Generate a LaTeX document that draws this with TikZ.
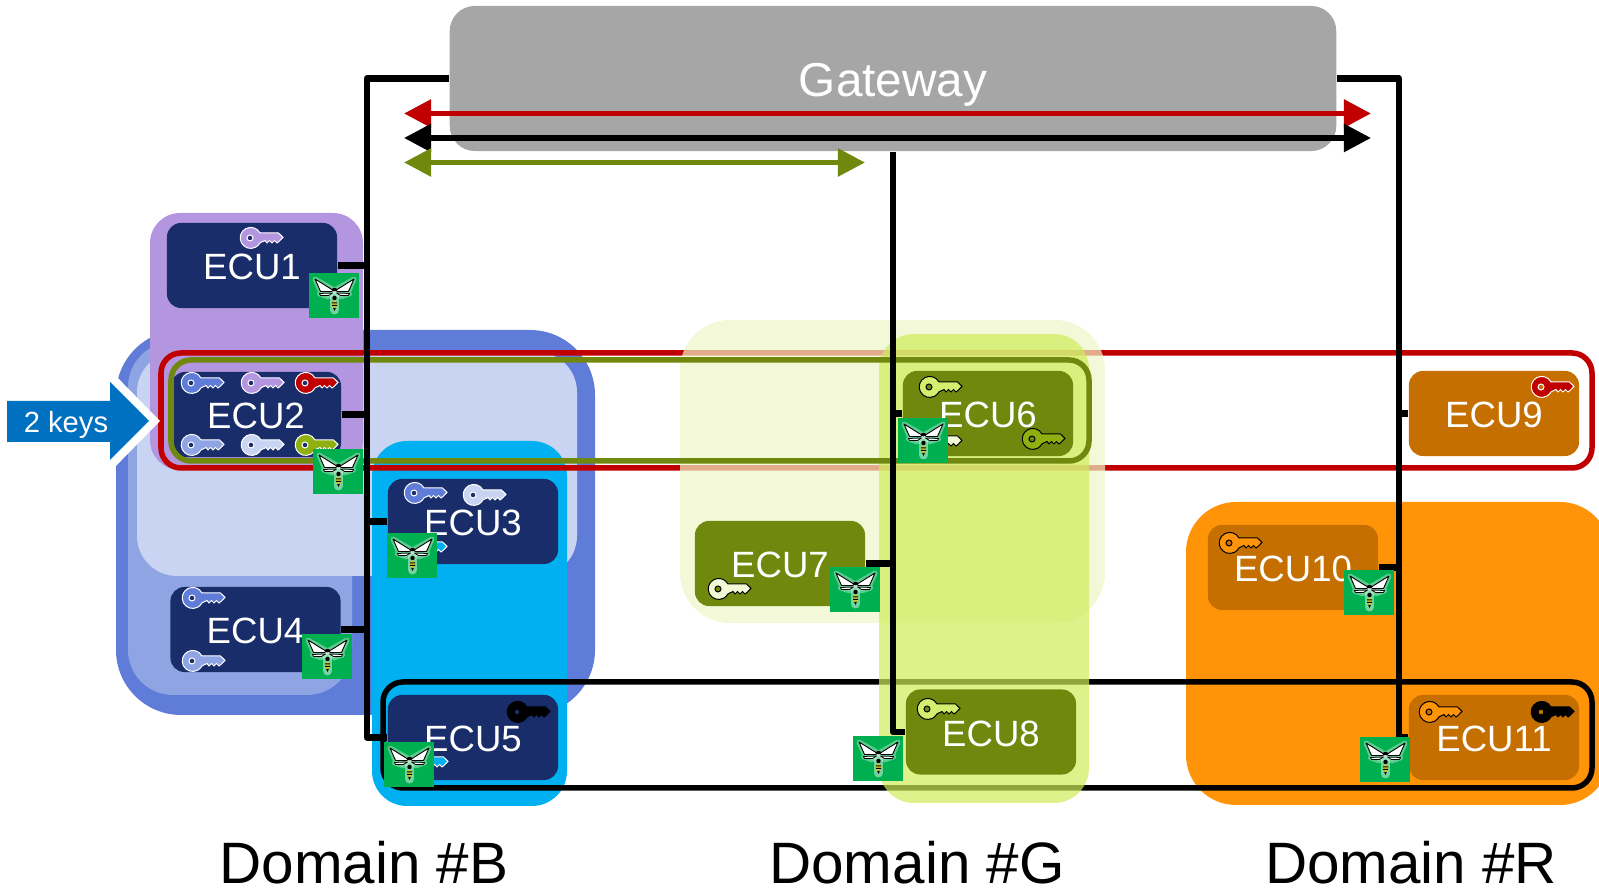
\documentclass[tikz,border=0pt]{standalone}
\usepackage{fontspec}
\setmainfont{Liberation Sans}
\usetikzlibrary{arrows.meta, positioning, calc}

\definecolor{bluedark}{HTML}{5F7CD8}
\definecolor{bluemid}{HTML}{8FA5E3}
\definecolor{bluelight}{HTML}{C8D4F1}
\definecolor{purpledom}{HTML}{B495E0}
\definecolor{cyandom}{HTML}{00B0F0}
\definecolor{orangedom}{HTML}{FF9409}
\definecolor{navyecu}{HTML}{1A2D6B}
\definecolor{oliveecu}{HTML}{71880E}
\definecolor{brownecu}{HTML}{C46F00}
\definecolor{redkey}{HTML}{C00000}
\definecolor{olivekey}{HTML}{8FB010}
\definecolor{limekey}{HTML}{D4EE70}
\definecolor{palekey}{HTML}{F3F9D7}
\definecolor{waspgreen}{HTML}{00B050}
\definecolor{arrowblue}{HTML}{0070C0}

\tikzset{
  ecubox/.style={rounded corners=.14cm, minimum width=1.7cm, minimum height=.85cm, inner sep=0pt,
    text=white, text height=.29cm, font=\fontsize{10.4}{12}\selectfont},
  ecunavy/.style={ecubox, fill=navyecu},
  ecuolive/.style={ecubox, fill=oliveecu},
  ecubrown/.style={ecubox, fill=brownecu},
  domlabel/.style={font=\fontsize{16.6}{20}\selectfont, inner sep=0pt},
  busline/.style={line width=.065cm, line join=round},
  keyframe/.style={line width=.055cm, rounded corners=.2cm},
  keyarrow/.style={line width=.055cm, {Triangle[length=.27cm,width=.27cm]}-{Triangle[length=.27cm,width=.27cm]}},
  pics/key/.style 2 args={code={
    \path[fill=#1, draw=#2, line width=.01cm, even odd rule]
      (20,-5) arc[start angle=28, end angle=332, radius=.105cm]
      -- (25,2.5) -- (27,5) -- (29.5,2.5) -- (32,5) -- (34.5,2.5) -- (37,5) -- (39,3.5)
      -- (43,-.6) -- (38.5,-5) -- cycle
      (10,0) circle[radius=.03cm];
  }},
  pics/wasp/.style={code={
    \fill[waspgreen] (0,0) rectangle (50,45);
    % glow behind the insect
    \foreach \s in {1,-1}
      \draw[white, opacity=.35, fill=white, line width=.05cm, line join=round]
        ({25.5+\s*19.5},6) -- ({25.5+\s*14},19) -- ({25.5+\s*15},21) -- ({25.5+\s*6},24) -- (25.5,17) -- cycle;
    \draw[white, opacity=.45, line width=.09cm, line cap=round] (25.5,22) -- (25.5,37);
    % wings
    \foreach \s in {1,-1} {
      \draw[black, fill=white, line width=.009cm, line join=round]
        ({25.5+\s*19.5},6) -- ({25.5+\s*14},18.5) -- ({25.5+\s*3},18.5) -- ({25.5+\s*1},17.5) -- cycle;
      \draw[black, fill=white, line width=.008cm, line join=round]
        ({25.5+\s*2},20) -- ({25.5+\s*15},20.5) -- ({25.5+\s*14},22.5) -- ({25.5+\s*6},22.5) -- cycle;
    }
    % body
    \fill[black] (25.5,16.5) ellipse[x radius=.025cm, y radius=.018cm];
    \fill[black] (25.5,25) circle[radius=.022cm];
    \fill[yellow!80!black] (25.5,31.5) ellipse[x radius=.025cm, y radius=.04cm];
    \fill[black] (23,29.5) rectangle (28,30.5) (23,32) rectangle (28,33);
    \fill[black] (24.2,35) -- (26.8,35) -- (25.5,38) -- cycle;
  }}
}

\begin{document}
\begin{tikzpicture}[x=.01cm, y=-.01cm]
  \useasboundingbox (0,0) rectangle (1599,889);
  \clip (0,0) rectangle (1599,889);

  % Domain B and its sub groups
  \fill[bluedark, rounded corners=.65cm] (116,330) rectangle (595,715);
  \fill[bluemid, rounded corners=.45cm] (128,342) rectangle (352,695);
  \fill[bluelight, rounded corners=.4cm] (137,352) rectangle (577,576);
  \fill[purpledom, rounded corners=.3cm] (150,213) rectangle (363,470);
  \fill[cyandom, rounded corners=.35cm] (372,441) rectangle (567,806);

  % Domain R
  \fill[orangedom, rounded corners=.5cm] (1186,502) rectangle (1610,805);

  % Red and black key frames, seen through the green groups
  \draw[keyframe, redkey] (161,353) rectangle (1592,468);
  \draw[keyframe, black] (383,682) rectangle (1592,788);

  % Domain G
  \fill[fill={rgb,255:red,238;green,246;blue,199}, opacity=.7, rounded corners=.5cm] (680,320) rectangle (1105,623);
  \fill[fill={rgb,255:red,206;green,236;blue,88}, opacity=.7, rounded corners=.35cm] (879,334) rectangle (1089,803);

  % Gateway
  \node[fill=black!35, rounded corners=.25cm, minimum width=8.86cm, minimum height=1.45cm, inner sep=0pt,
    text=white, text height=.46cm, font=\fontsize{13.55}{16}\selectfont] (gateway) at (893,78.5) {Gateway};

  % ECUs
  \node[ecunavy] (ecu1) at (252,265.5) {ECU1};
  \node[ecunavy] (ecu2) at (256,414.5) {ECU2};
  \node[ecunavy] (ecu3) at (473,521.5) {ECU3};
  \node[ecunavy] (ecu4) at (255.5,629.5) {ECU4};
  \node[ecunavy] (ecu5) at (473,737.5) {ECU5};
  \node[ecuolive] (ecu6) at (988,413.5) {ECU6};
  \node[ecuolive] (ecu7) at (780,563.5) {ECU7};
  \node[ecuolive] (ecu8) at (991,732) {ECU8};
  \node[ecubrown] (ecu9) at (1494,413.5) {ECU9};
  \node[ecubrown] (ecu10) at (1293,567.5) {ECU10};
  \node[ecubrown] (ecu11) at (1494,737.5) {ECU11};

  % Keys
  \foreach \kx/\ky/\kf/\kd in {
    240/238/purpledom/white, 181/383/bluedark/white, 241/383/purpledom/white, 295/383/redkey/white,
    181/445/bluemid/white, 241/445/bluelight/white, 295/445/olivekey/white,
    404/493/bluedark/white, 463/495/bluelight/white, 404/547/cyandom/white,
    182/598/bluedark/white, 182/661/bluemid/white,
    507/712/black/black, 405/762/cyandom/white,
    919/387/limekey/black, 919/441/palekey/black, 1022/439/olivekey/black,
    708/589/palekey/black, 917/709/limekey/black,
    1531/387/redkey/white, 1219/543/orangedom/black,
    1419/712/orangedom/black, 1531/712/black/black}
    \pic at (\kx,\ky) {key={\kf}{\kd}};

  % Olive key frame
  \draw[keyframe, oliveecu] (171,360) rectangle (1089,461);

  % Buses to the gateway
  \coordinate (busL) at (367,78.5);
  \coordinate (busR) at (1399,78.5);
  \draw[busline] (gateway.west) -- (busL) |- (ecu5.west);
  \draw[busline] (gateway.east) -- (busR) |- (ecu11.west);
  \draw[busline] (gateway.south) |- (ecu8.west);
  \foreach \ecu in {ecu1,ecu2,ecu4}
    \draw[busline] (\ecu.east) -- (\ecu.east -| busL);
  \draw[busline] (ecu3.west) -- (ecu3.west -| busL);
  \draw[busline] (ecu6.west) -- (ecu6.west -| gateway.south);
  \draw[busline] (ecu7.east) -- (ecu7.east -| gateway.south);
  \draw[busline] (ecu9.west) -- (ecu9.west -| busR);
  \draw[busline] (ecu10.east) -- (ecu10.east -| busR);

  % Wasps
  \foreach \wx/\wy in {309/273, 313/449, 387/533, 302/634, 384/742, 898/418, 830/567, 853/736, 1344/570, 1360/737}
    \pic at (\wx,\wy) {wasp};

  % Arrows across the gateway
  \coordinate (redL) at (404,113.5);
  \coordinate (redR) at (1371,113.5);
  \coordinate (blackL) at (404,138);
  \coordinate (blackR) at (1371,138);
  \coordinate (greenL) at (404,162.5);
  \coordinate (greenR) at (865,162.5);
  \draw[keyarrow, redkey] (redL) -- (redR);
  \draw[keyarrow, black] (blackL) -- (blackR);
  \draw[keyarrow, oliveecu] (greenL) -- (greenR);

  % 2 keys marker
  \fill[white] (110,370) -- (160,421) -- (110,472) -- cycle;
  \fill[arrowblue] (7,401) -- (110,401) -- (110,382) -- (149,421) -- (110,460) -- (110,442) -- (7,442) -- cycle;
  \node[text=white, font=\fontsize{8.3}{10}\selectfont, inner sep=0pt] (twokeys) at (66,425) {2 keys};

  % Domain names
  \node[domlabel] (domB) at (364,863) {Domain \#B};
  \node[domlabel] (domG) at (917,863) {Domain \#G};
  \node[domlabel] (domR) at (1411,863) {Domain \#R};
\end{tikzpicture}
\end{document}
